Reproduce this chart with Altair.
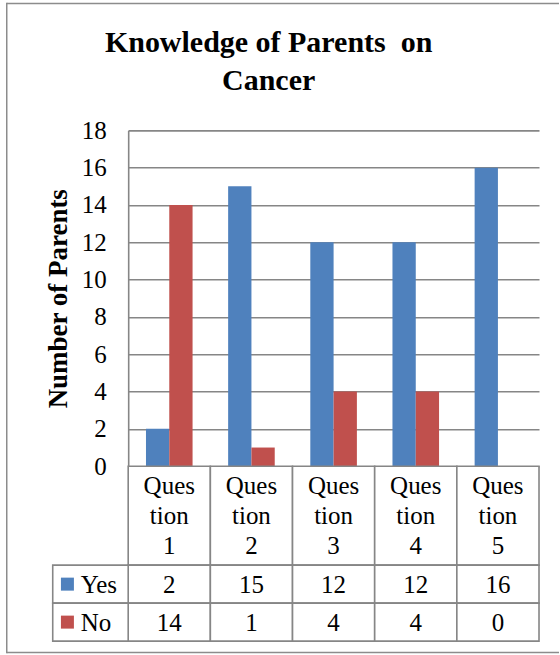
import altair as alt
import pandas as pd

# Survey answers per question
questions = ["Question 1", "Question 2", "Question 3", "Question 4", "Question 5"]
header_labels = ["Ques\ntion\n1", "Ques\ntion\n2", "Ques\ntion\n3", "Ques\ntion\n4", "Ques\ntion\n5"]
yes_counts = [2, 15, 12, 12, 16]
no_counts = [14, 1, 4, 4, 0]
series = ["Yes", "No"]
series_colors = ["#4F81BD", "#C0504D"]
y_ticks = [0, 2, 4, 6, 8, 10, 12, 14, 16, 18]

long_df = pd.DataFrame(
    [{"question": q, "series": "Yes", "count": v} for q, v in zip(questions, yes_counts)]
    + [{"question": q, "series": "No", "count": v} for q, v in zip(questions, no_counts)]
)
header_df = pd.DataFrame({"question": questions, "label": header_labels})
series_df = pd.DataFrame({"series": series})
one_row = pd.DataFrame({"k": [0]})

FONT = "Liberation Serif"
LINE = "#868686"
LW = 1.6
PLOT_W = 411
PLOT_H = 336
HEAD_H = 99
ROWS_H = 76

color = alt.Color("series:N", scale=alt.Scale(domain=series, range=series_colors), legend=None)

# Clustered columns
bars = alt.Chart(long_df).mark_bar().encode(
    x=alt.X("question:N", sort=questions,
            scale=alt.Scale(paddingInner=0.433, paddingOuter=0.2165), axis=None),
    xOffset=alt.XOffset("series:N", sort=series),
    y=alt.Y("count:Q", scale=alt.Scale(domain=[0, 18], nice=False),
            axis=alt.Axis(values=y_ticks, ticks=False, grid=True,
                          gridColor=LINE, gridWidth=LW,
                          domainColor=LINE, domainWidth=LW,
                          labelFont=FONT, labelFontSize=25, labelColor="black",
                          labelPadding=22,
                          title="Number of Parents", titleFont=FONT,
                          titleFontSize=27, titleFontWeight="bold",
                          titleColor="black", titlePadding=9)),
    color=color,
).properties(
    width=PLOT_W, height=PLOT_H,
    title=alt.TitleParams(["Knowledge of Parents\u00a0 on", "Cancer"],
                          font=FONT, fontSize=30, fontWeight="bold",
                          lineHeight=38, color="black", anchor="middle",
                          offset=22, dx=-65),
)

# Data table: category header row
x_table = alt.X("question:N", sort=questions,
                scale=alt.Scale(paddingInner=0, paddingOuter=0), axis=None)
head_cells = alt.Chart(header_df).mark_rect(fill="white", stroke=LINE, strokeWidth=LW).encode(
    x=x_table, y=alt.value(0), y2=alt.value(HEAD_H)
)
head_text = alt.Chart(header_df).mark_text(
    font=FONT, fontSize=25, color="black", lineBreak="\n", lineHeight=29.7, baseline="middle"
).encode(x=x_table, y=alt.value(20), text="label:N")
header = alt.layer(head_cells, head_text).properties(width=PLOT_W, height=HEAD_H)

# Data table: value rows with legend keys
y_rows = alt.Y("series:N", sort=series,
               scale=alt.Scale(paddingInner=0, paddingOuter=0), axis=None)
row_cells = alt.Chart(long_df).mark_rect(fill="white", stroke=LINE, strokeWidth=LW).encode(
    x=x_table, y=y_rows
)
row_text = alt.Chart(long_df).mark_text(
    font=FONT, fontSize=25, color="black", baseline="middle", dy=1
).encode(x=x_table, y=y_rows, text="count:Q")
key_cells = alt.Chart(series_df).mark_rect(fill="white", stroke=LINE, strokeWidth=LW).encode(
    x=alt.value(-75.5), x2=alt.value(0), y=y_rows
)
key_marks = alt.Chart(series_df).mark_square(size=169, opacity=1).encode(
    x=alt.value(-60.8), y=y_rows, color=color
)
key_text = alt.Chart(series_df).mark_text(
    font=FONT, fontSize=25, color="black", align="left", baseline="middle", dy=1
).encode(x=alt.value(-47.5), y=y_rows, text="series:N")

# Chart-area frame (left, top and bottom edges; the right edge runs past the page)
FRAME = "#8C8C8C"
frame_left = alt.Chart(one_row).mark_rect(fill=FRAME, strokeWidth=0).encode(
    x=alt.value(-122.25), x2=alt.value(-120.75), y=alt.value(-562.75), y2=alt.value(88.25))
frame_top = alt.Chart(one_row).mark_rule(color=FRAME, strokeWidth=1.5).encode(
    x=alt.value(-121.5), x2=alt.value(431), y=alt.value(-562), y2=alt.value(-562))
frame_bottom = alt.Chart(one_row).mark_rule(color=FRAME, strokeWidth=1.5).encode(
    x=alt.value(-121.5), x2=alt.value(431), y=alt.value(87.5), y2=alt.value(87.5))

rows = alt.layer(
    row_cells, row_text, key_cells, key_marks, key_text,
    frame_left, frame_top, frame_bottom,
).properties(width=PLOT_W, height=ROWS_H)

chart = alt.vconcat(bars, header, rows, spacing=0, bounds="flush").properties(
    padding={"left": 5.25, "top": 2.25, "right": 0, "bottom": 0},
    background="white",
).configure_view(stroke=None)

chart.save("out.html", embed_options={"renderer": "svg", "actions": False})
